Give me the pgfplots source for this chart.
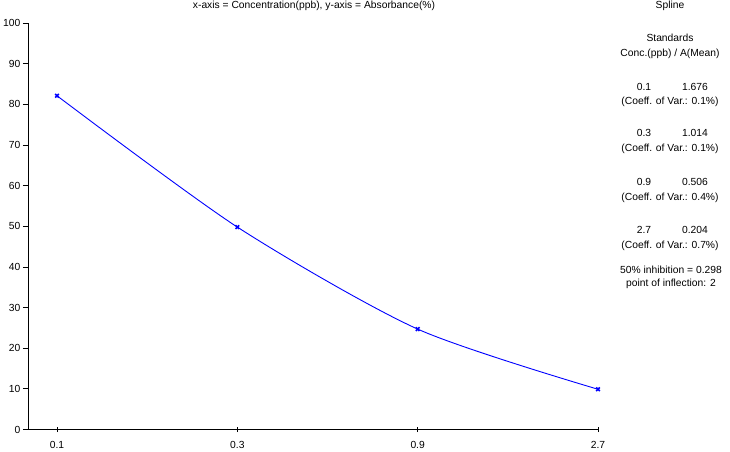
\documentclass[border=0pt]{standalone}
\usepackage{fontspec}
\setmainfont{Liberation Sans}
\usepackage{pgfplots}
\pgfplotsset{compat=1.18}
\begin{document}
\fontsize{10.3}{12}\selectfont
\begin{tikzpicture}[x=1pt,y=1pt]
\path[use as bounding box] (0,0) rectangle (730,451);
\begin{axis}[
  at={(28pt,21.5pt)}, anchor=south west,
  scale only axis, width=570pt, height=406.5pt,
  xmode=log, xmin=0.0838, xmax=2.7, ymin=0, ymax=100,
  axis x line*=bottom, axis y line*=left,
  axis line style={black, line width=0.9pt, -},
  xtick={0.1,0.3,0.9,2.7}, xticklabels={0.1,0.3,0.9,2.7},
  ytick={0,10,...,100},
  minor xtick={}, minor ytick={},
  x tick style={black, line width=0.8pt},
  y tick style={black, line width=0.8pt},
  xtick align=center, ytick align=outside,
  major tick length=5pt,
  tick label style={font=\fontsize{10.3}{12}\selectfont, text=black},
  /pgf/number format/assume math mode=true,
  yticklabel style={xshift=1pt},
  xticklabel style={yshift=-6pt},
  clip=false,
]
\addplot[blue, line width=0.9pt, smooth, tension=0.45, mark=x, mark size=2.6pt, mark options={line width=1.6pt}]
  coordinates {(0.1,82.1) (0.3,49.8) (0.9,24.7) (2.7,9.9)};
\end{axis}
\node at (314,445) {x-axis = Concentration(ppb), y-axis = Absorbance(\%)};
\node at (670,445) {Spline};
\node at (670,413) {Standards};
\node at (670,397) {Conc.(ppb) / A(Mean)};
\node at (644,364) {0.1}; \node at (695,364) {1.676};
\node at (670,349) {(Coeff. of Var.: 0.1\%)};
\node at (644,318) {0.3}; \node at (695,318) {1.014};
\node at (670,302) {(Coeff. of Var.: 0.1\%)};
\node at (644,269) {0.9}; \node at (695,269) {0.506};
\node at (670,253) {(Coeff. of Var.: 0.4\%)};
\node at (644,221) {2.7}; \node at (695,221) {0.204};
\node at (670,205) {(Coeff. of Var.: 0.7\%)};
\node at (671,181) {50\% inhibition = 0.298};
\node at (671,167) {point of inflection: 2};
\end{tikzpicture}
\end{document}
